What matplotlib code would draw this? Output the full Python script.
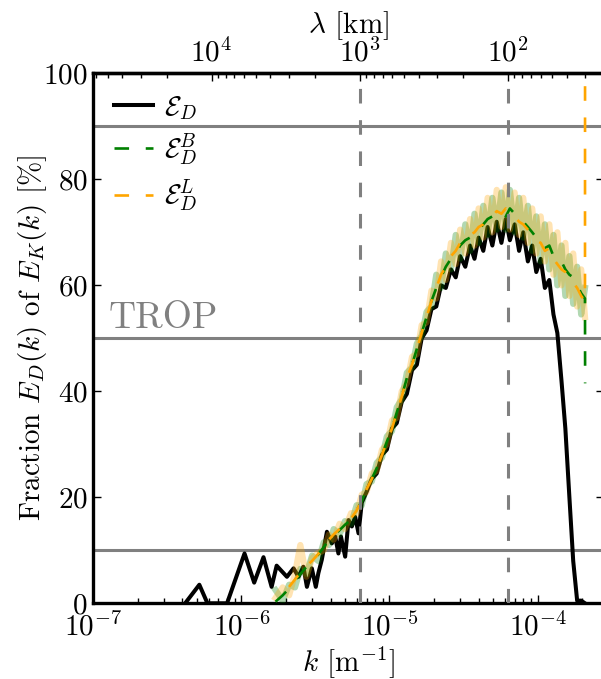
import numpy as np
import matplotlib
matplotlib.use("Agg")
from matplotlib import pyplot as plt

plt.rcParams["font.family"] = "serif"
plt.rcParams["font.serif"] = ["cmr10"]
plt.rcParams["mathtext.fontset"] = "cm"
plt.rcParams["axes.formatter.use_mathtext"] = True
plt.rcParams["axes.unicode_minus"] = False
plt.rcParams["lines.scale_dashes"] = False

# wavenumber grid (m^-1) shared by the B / L decompositions
K = [1.7e-6, 1.9e-6, 2.1e-6, 2.3e-6, 2.5e-6, 2.75e-6, 3.0e-6, 3.3e-6, 3.6e-6, 3.9e-6,
     4.2e-6, 4.6e-6, 5.0e-6, 5.5e-6, 6.0e-6, 6.5e-6, 7.0e-6, 7.6e-6, 8.2e-6, 8.9e-6,
     9.6e-6, 1.04e-5, 1.12e-5, 1.21e-5, 1.31e-5, 1.42e-5, 1.53e-5, 1.65e-5, 1.78e-5, 1.92e-5,
     2.07e-5, 2.23e-5, 2.4e-5, 2.6e-5, 2.8e-5, 3.0e-5, 3.25e-5, 3.5e-5, 3.75e-5, 4.0e-5,
     4.3e-5, 4.6e-5, 4.95e-5, 5.3e-5, 5.7e-5, 6.1e-5, 6.5e-5, 7.0e-5, 7.5e-5, 8.0e-5,
     8.6e-5, 9.2e-5, 9.8e-5, 1.05e-4, 1.12e-4, 1.2e-4, 1.28e-4, 1.36e-4, 1.45e-4, 1.54e-4,
     1.64e-4, 1.74e-4, 1.85e-4, 1.97e-4, 2.09e-4]

eps_B = [0.3, 1.5, 2.8, 4.3, 5.5, 6.9, 7.9, 9.2, 10.6, 12.0,
         12.8, 13.8, 14.8, 15.8, 17.5, 19.3, 21.5, 23.5, 25.5, 28.0,
         30.5, 33.0, 36.0, 39.0, 42.5, 45.0, 48.0, 51.0, 54.0, 57.0,
         59.5, 61.5, 63.5, 65.0, 66.0, 67.5, 68.5, 69.0, 70.0, 70.5,
         71.5, 72.5, 73.0, 73.5, 74.0, 73.0, 74.5, 73.5, 72.5, 72.0,
         71.0, 70.0, 69.0, 68.0, 67.0, 67.5, 65.5, 64.5, 64.5, 63.0,
         62.0, 61.5, 60.0, 58.5, 57.5]

eps_L = [np.nan, np.nan, 3.1, 4.5, 5.8, 7.0, 8.0, 9.3, 10.8, 12.0,
         13.0, 14.0, 15.0, 16.0, 17.5, 19.5, 21.5, 23.5, 25.5, 28.0,
         30.5, 33.0, 36.0, 39.0, 42.5, 45.0, 48.0, 51.0, 54.0, 57.0,
         59.5, 62.0, 63.5, 65.5, 66.5, 68.0, 68.5, 69.5, 70.0, 71.0,
         71.5, 72.5, 73.0, 74.0, 73.5, 74.5, 73.5, 73.0, 72.0, 71.5,
         70.5, 69.5, 68.5, 68.0, 66.5, 67.0, 65.0, 64.0, 63.0, 62.5,
         61.0, 60.5, 59.5, 58.0, 57.0]

eps_B_raw = [2.5, 0.5, 3.5, 3.0, 6.5, 5.5, 9.0, 8.0, 11.5, 11.0,
             14.0, 13.0, 15.5, 15.0, 18.5, 18.5, 22.5, 23.0, 26.5, 27.5,
             31.5, 32.5, 37.0, 38.5, 43.5, 44.5, 49.0, 50.5, 55.0, 56.0,
             62.0, 59.5, 66.0, 63.0, 69.5, 65.0, 71.5, 66.5, 73.5, 68.0,
             75.0, 69.5, 76.5, 70.5, 77.5, 70.5, 78.0, 70.0, 76.5, 69.0,
             75.0, 66.5, 73.0, 64.5, 71.5, 63.0, 69.5, 60.0, 67.5, 58.0,
             65.5, 56.5, 63.5, 54.5, 59.5]

eps_L_raw = [1.0, 3.0, 1.5, 5.5, 11.0, 5.0, 8.5, 9.5, 10.0, 13.0,
             12.0, 15.0, 14.0, 17.0, 17.0, 20.5, 21.0, 24.5, 25.0, 29.0,
             30.0, 34.5, 35.0, 40.0, 41.5, 46.5, 47.0, 52.5, 53.0, 59.0,
             57.5, 64.5, 61.0, 68.0, 64.0, 70.5, 66.0, 72.5, 67.5, 74.5,
             69.0, 76.5, 70.0, 78.0, 71.0, 78.5, 70.5, 77.5, 69.5, 76.5,
             68.0, 74.5, 66.0, 73.0, 64.5, 71.5, 62.0, 70.0, 60.0, 68.0,
             58.0, 66.0, 56.0, 63.0, 54.0]

# last point of the smoothed curves (at the 30 km cut-off)
k_end = 2.094e-4
eps_B_end = 41.5
eps_L_end = 140.0

# full divergent fraction (black)
k_low = [4.17e-7, 5.2e-7, 5.9e-7, 8.0e-7, 1.05e-6, 1.22e-6, 1.41e-6, 1.6e-6, 1.73e-6, 2.03e-6,
         2.25e-6, 2.43e-6, 2.62e-6, 2.77e-6, 2.99e-6, 3.18e-6, 3.31e-6, 3.49e-6, 3.78e-6, 4.08e-6,
         4.3e-6, 4.52e-6, 4.7e-6, 5.02e-6, 5.29e-6, 5.57e-6, 5.87e-6, 6.18e-6]
eps_low = [0, 3.5, 0, 0, 9.4, 3.9, 8.7, 3.1, 7.1, 5.0,
           6.6, 5.0, 6.9, 3.1, 6.6, 3.1, 5.7, 8.2, 13.5, 11.3,
           12.6, 9.4, 12.6, 8.8, 15.7, 14.5, 16.3, 13.2]
eps_high = [19.0, 21.0, 23.5, 24.5, 28.0, 29.0, 33.0, 34.0, 38.0, 39.5,
            44.0, 45.0, 50.0, 51.5, 55.5, 56.0, 60.0, 59.5, 63.0, 61.5,
            65.5, 63.5, 67.5, 65.0, 69.0, 66.5, 71.0, 67.5, 72.0, 68.0,
            72.5, 68.5, 71.5, 66.5, 70.0, 64.5, 67.5, 62.5, 65.0, 59.5,
            61.0, 54.5, 51.0, 42.0, 33.0, 20.0, 8.0, 0.5, 0.5, 0.0]
k_D = k_low + K[15:]
eps_D = eps_low + eps_high

trop_lines = [10, 50, 90]
lam_marks = [1000.0, 100.0]   # km
DASH = (10.5, 12.0)


def k2lam(k):
	k = np.asarray(k, dtype=float)
	with np.errstate(divide="ignore"):
		return 2 * np.pi / k / 1e3


fig = plt.figure(figsize=(6.01, 6.79), dpi=100)
ax = fig.add_axes([93.3 / 601, 75.7 / 679, 510.5 / 601, 530 / 679])

for yv in trop_lines:
	ax.axhline(yv, color="gray", lw=2.2, zorder=1)

lD, = ax.plot(k_D, eps_D, color="black", lw=2.9, zorder=2)
ax.plot(K, eps_B_raw, color="green", lw=4.5, alpha=0.3, zorder=3)
ax.plot(K, eps_L_raw, color="orange", lw=4.5, alpha=0.3, zorder=3)
lB, = ax.plot(K + [k_end], eps_B + [eps_B_end], color="green", lw=1.9, dashes=DASH, zorder=4)
lL, = ax.plot(K + [k_end], eps_L + [eps_L_end], color="orange", lw=1.9, dashes=DASH, zorder=4)

for lam in lam_marks:
	ax.axvline(2 * np.pi / (lam * 1e3), color="gray", lw=2.2, dashes=DASH, zorder=5)

ax.text(1.26e-7, 52, "TROP", color="gray", fontsize=27, va="baseline")

ax.set_xscale("log")
ax.set_xlim(1e-7, 2.8e-4)
ax.set_ylim(0, 100)
ax.set_yticks([0, 20, 40, 60, 80, 100])
ax.tick_params(axis="x", which="both", top=False, bottom=True, direction="in", labelsize=21, pad=6)
ax.tick_params(axis="y", which="both", left=True, right=True, direction="in", labelsize=21, pad=4)
ax.tick_params(which="major", length=6, width=1)
ax.tick_params(which="minor", length=3.5, width=1)
for s in ax.spines.values():
	s.set_linewidth(2.4)

ax.set_xlabel(r"$k$ [m$^{-1}$]", fontsize=21, labelpad=2)
ax.set_ylabel(r"Fraction $E_D(k)$ of $E_K(k)$ [%]", fontsize=21, labelpad=-4)

secax = ax.secondary_xaxis("top", functions=(k2lam, k2lam))
secax.tick_params(which="both", direction="in", labelsize=21, pad=4)
secax.tick_params(which="major", length=6, width=1)
secax.tick_params(which="minor", length=3.5, width=1)
secax.spines["top"].set_linewidth(2.4)
secax.set_xlabel(r"$\lambda$ [km]", fontsize=21, labelpad=4)

ax.legend([lD, lB, lL], [r"$\mathcal{E}_D$", r"$\mathcal{E}_D^B$", r"$\mathcal{E}_D^L$"],
          loc="upper left", frameon=False, fontsize=20, handlelength=1.4,
          handletextpad=0.4, labelspacing=0.35, borderaxespad=0.3, borderpad=0.45)

fig.savefig("out.png", dpi=100)
